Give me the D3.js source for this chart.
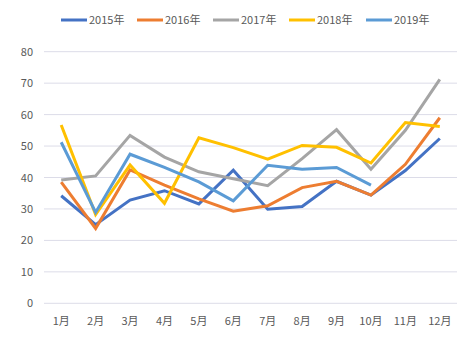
<!DOCTYPE html>
<html><head><meta charset="utf-8">
<script src="https://cdn.jsdelivr.net/npm/d3@7"></script>
<style>body{margin:0;background:#fff}svg{display:block}text{font-family:"Noto Sans CJK SC","Noto Sans",sans-serif;fill:#595959}</style>
</head><body>
<script>
const months = ["1月","2月","3月","4月","5月","6月","7月","8月","9月","10月","11月","12月"];
const seriesNames = ["2015年","2016年","2017年","2018年","2019年"];
const s2015 = [34.2,25.0,32.8,35.8,31.6,42.3,29.9,30.8,38.8,34.4,42.2,52.4];
const s2016 = [38.5,23.8,42.4,37.6,33.2,29.3,31.0,36.8,38.8,34.4,44.2,59.0];
const s2017 = [39.2,40.5,53.4,46.5,41.8,39.6,37.4,46.0,55.2,42.6,55.0,71.2];
const s2018 = [56.7,28.2,44.0,31.8,52.6,49.5,45.8,50.2,49.6,44.6,57.5,56.2];
const s2019 = [51.2,28.9,47.4,43.2,38.6,32.6,43.9,42.6,43.2,37.6];
const yTicks = [0,10,20,30,40,50,60,70,80];
const colors = ["#4472C4","#ED7D31","#A5A5A5","#FFC000","#5B9BD5"];
const allSeries = [s2015,s2016,s2017,s2018,s2019];

const W=476,H=340;
const svg=d3.select("body").append("svg").attr("width",W).attr("height",H);
const x=d3.scaleBand().domain(months).range([44,457]);
const y=d3.scaleLinear().domain([0,80]).range([303.3,51.7]);

const grid=svg.append("g");
grid.selectAll("line").data(yTicks).join("line")
  .attr("x1",44).attr("x2",457).attr("y1",d=>y(d)).attr("y2",d=>y(d))
  .attr("stroke","#dcdce8").attr("stroke-width",1);

const yAxis=svg.append("g").attr("transform","translate(44,0)")
  .call(d3.axisLeft(y).tickValues(yTicks).tickSize(0).tickPadding(11));
yAxis.select(".domain").remove();
yAxis.selectAll("text").attr("font-size",11).style("fill","#595959");

const xAxis=svg.append("g").attr("transform","translate(0,"+y(0)+")")
  .call(d3.axisBottom(x).tickSize(0).tickPadding(14));
xAxis.select(".domain").remove();
xAxis.selectAll("text").attr("font-size",11).style("fill","#595959");

const line=d3.line().x((d,i)=>x(months[i])+x.bandwidth()/2).y(d=>y(d));
allSeries.forEach((s,k)=>{
  svg.append("path").datum(s).attr("d",line).attr("fill","none")
    .attr("stroke",colors[k]).attr("stroke-width",3).attr("stroke-linejoin","miter");
});

const lg=svg.append("g");
const lx=[61,137,213,289,366];
seriesNames.forEach((n,k)=>{
  lg.append("line").attr("x1",lx[k]).attr("x2",lx[k]+26).attr("y1",20).attr("y2",20)
    .attr("stroke",colors[k]).attr("stroke-width",3);
  lg.append("text").attr("x",lx[k]+28).attr("y",20).attr("dy","0.35em")
    .attr("font-size",11).text(n);
});
</script>
</body></html>
